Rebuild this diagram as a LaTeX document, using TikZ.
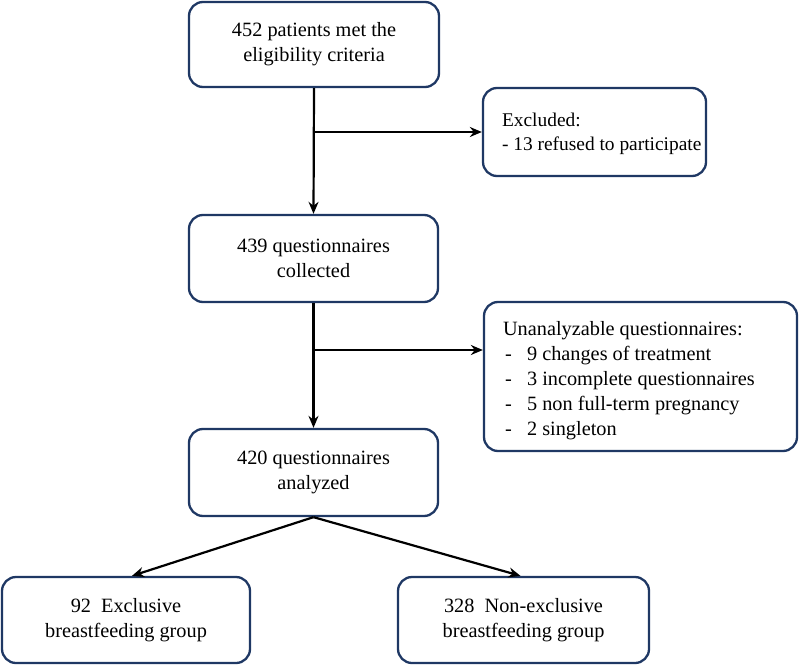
\documentclass[tikz,border=0pt]{standalone}
\usepackage{fontspec}
\setmainfont{Liberation Serif}
\usetikzlibrary{arrows.meta,calc}
\definecolor{boxnavy}{RGB}{31,56,100}
\begin{document}
\begin{tikzpicture}[x=1pt,y=-1pt,
  box/.style={draw=boxnavy,line width=2.3pt,rounded corners=14pt,fill=white,
    minimum width=#1,inner sep=0pt,font=\fontsize{20.3}{25}\selectfont},
  cbox/.style={box=#1,align=center},
  ltext/.style={anchor=west,align=left,inner sep=0pt,font=\fontsize{20.3}{25}\selectfont},
  conn/.style={draw=black,line width=2.2pt,-{Stealth[length=12pt,width=10pt]}}]
\useasboundingbox (0,0) rectangle (800,666);
\node[cbox=250pt,minimum height=85pt] (b1) at (314,44.5) {452 patients met the\\eligibility criteria};
\node[box=223pt,minimum height=88pt] (ex) at (594.5,132) {};
\node[ltext,font=\fontsize{19.4}{24}\selectfont] (ext) at ($(ex.west)+(20,2)$) {Excluded:\\- 13 refused to participate};
\node[cbox=249pt,minimum height=87pt] (b2) at (313.5,258.5) {439 questionnaires\\collected};
\node[box=313pt,minimum height=149pt] (un) at (640.5,376.5) {};
\node[ltext] (unt) at ($(un.west)+(20,4)$) {Unanalyzable questionnaires:\\
  \makebox[24pt][l]{\hspace{2pt}-}9 changes of treatment\\
  \makebox[24pt][l]{\hspace{2pt}-}3 incomplete questionnaires\\
  \makebox[24pt][l]{\hspace{2pt}-}5 non full-term pregnancy\\
  \makebox[24pt][l]{\hspace{2pt}-}2 singleton};
\node[cbox=249pt,minimum height=87pt] (b3) at (313.5,472.5) {420 questionnaires\\analyzed};
\node[cbox=248pt,minimum height=86pt] (bl) at (126,620) {92~~Exclusive\\breastfeeding group};
\node[cbox=251pt,minimum height=86pt] (br) at (523.5,620) {328~~Non-exclusive\\breastfeeding group};
\coordinate (j1) at (b1.south |- ex.west);
\coordinate (j2) at (313.5,350);
\draw[conn] (b1.south) -- (b2.north);
\draw[conn] (j1) -- (ex.west);
\draw[conn] (b2.south) -- (b3.north);
\draw[conn] (j2) -- (j2 -| un.west);
\draw[conn] (b3.south) -- ($(bl.north)+(6,0)$);
\draw[conn] (b3.south) -- ($(br.north)+(-3,0)$);
\end{tikzpicture}
\end{document}
